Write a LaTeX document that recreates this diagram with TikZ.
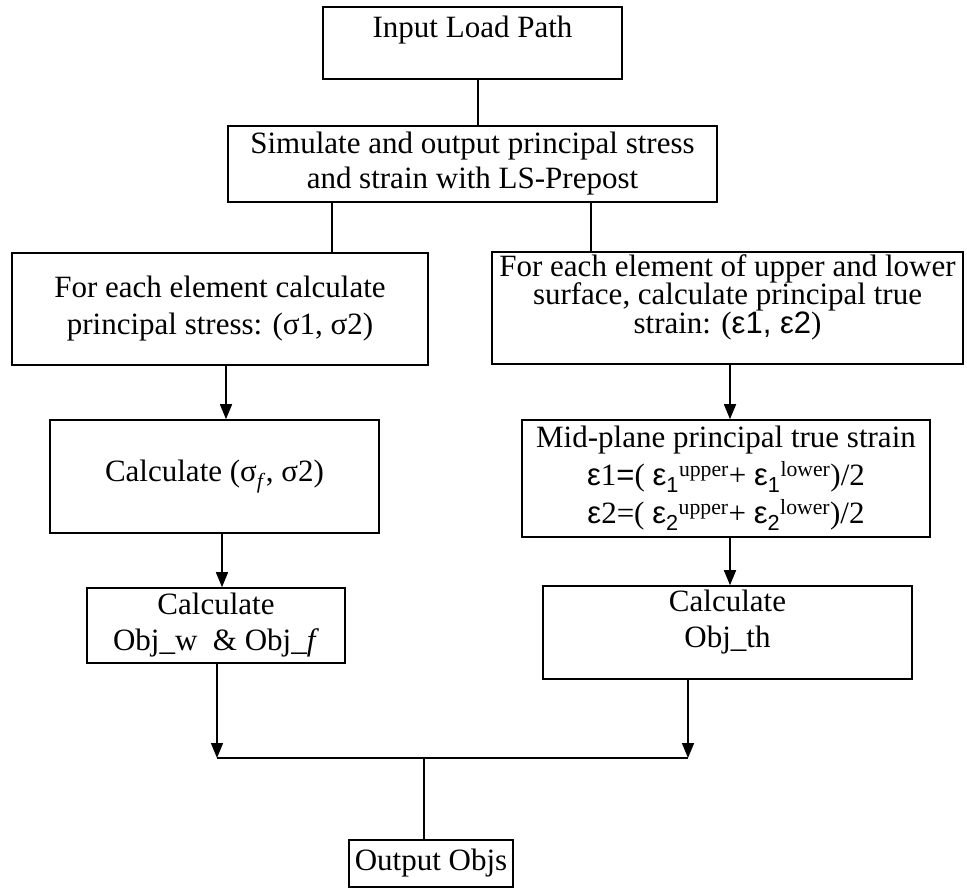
\documentclass[tikz,border=0pt]{standalone}
\usepackage{fontspec}
\setmainfont{Liberation Serif}
\newfontfamily\epsfont{Liberation Sans}
\usetikzlibrary{arrows.meta}

\begin{document}
\begin{tikzpicture}[x=1pt,y=-1pt,
  line width=1.6pt,
  box/.style={draw, line width=1.6pt, inner sep=0pt, align=center,
    font=\fontsize{31}{37}\selectfont},
  lbl/.style={inner sep=0pt, align=center, font=\fontsize{31}{36}\selectfont},
  arr/.style={-{Triangle[length=15pt,width=12pt]}}]
\useasboundingbox (0,0) rectangle (967,888);

% boxes
\node[box, minimum width=299pt, minimum height=72pt,
  label={[lbl, name=t1, yshift=13pt]center:Input Load Path}] (b1) at (472.5,43) {};
\node[box, minimum width=489pt, minimum height=76pt,
  font=\fontsize{31}{35}\selectfont] (b2) at (472.5,164)
  {Simulate and output principal stress\\and strain with LS-Prepost};
\node[box, minimum width=416pt, minimum height=112pt] (b3) at (220,309)
  {For each element calculate\\principal stress: (σ1, σ2)};
\node[box, minimum width=471pt, minimum height=112pt,
  label={[lbl, name=t4, yshift=11pt,
    font={\fontsize{31}{28.5}\selectfont\lineskiplimit=-50pt}]center:For each element of upper and lower\\surface, calculate principal true\\strain: ({\epsfont ε1, ε2})}] (b4) at (727.5,308) {};
\node[box, minimum width=329pt, minimum height=113pt] (b5) at (214.5,476.5)
  {Calculate (σ\textsubscript{\textit{f}}, σ2)};
\node[box, minimum width=408pt, minimum height=117pt,
  font={\fontsize{31}{38}\selectfont\lineskiplimit=-50pt}] (b7) at (726,478.5)
  {Mid-plane principal true strain\\
   {\epsfont ε}1{\epsfont =}( {\epsfont ε\textsubscript{1}}\textsuperscript{upper}+ {\epsfont ε\textsubscript{1}}\textsuperscript{lower})/2\\
   {\epsfont ε}2=( {\epsfont ε\textsubscript{2}}\textsuperscript{upper}+ {\epsfont ε\textsubscript{2}}\textsuperscript{lower})/2};
\node[box, minimum width=258pt, minimum height=75pt,
  font=\fontsize{31}{36}\selectfont] (b6) at (216,625.5)
  {Calculate\\Obj\_w\ \ \& Obj\_\textit{f}};
\node[box, minimum width=369pt, minimum height=93pt,
  label={[lbl, name=t8, yshift=10pt]center:Calculate\\Obj\_th}] (b8) at (727.5,632.5) {};
\node[box, minimum width=164pt, minimum height=47pt] (b9) at (431,863.5) {Output Objs};

% junction above the output box
\coordinate (jl) at (217,758);
\coordinate (jr) at (688,758);
\coordinate (jm) at (424,758);

% connectors
\draw ([xshift=5.5pt]b1.south) -- ([xshift=5.5pt]b1.south |- b2.north);
\draw ([xshift=-140.5pt]b2.south) -- ([xshift=-140.5pt]b2.south |- b3.north);
\draw ([xshift=118.5pt]b2.south) -- ([xshift=118.5pt]b2.south |- b4.north);
\draw[arr] ([xshift=6pt]b3.south) -- ([xshift=6pt]b3.south |- b5.north);
\draw[arr] ([xshift=7.5pt]b5.south) -- ([xshift=7.5pt]b5.south |- b6.north);
\draw[arr] ([xshift=2.5pt]b4.south) -- ([xshift=2.5pt]b4.south |- b7.north);
\draw[arr] ([xshift=4pt]b7.south) -- ([xshift=4pt]b7.south |- b8.north);
\draw[arr] (b6.south -| jl) -- (jl);
\draw[arr] (b8.south -| jr) -- (jr);
\draw (jl) -- (jr);
\draw (jm) -- (jm |- b9.north);
\end{tikzpicture}
\end{document}
